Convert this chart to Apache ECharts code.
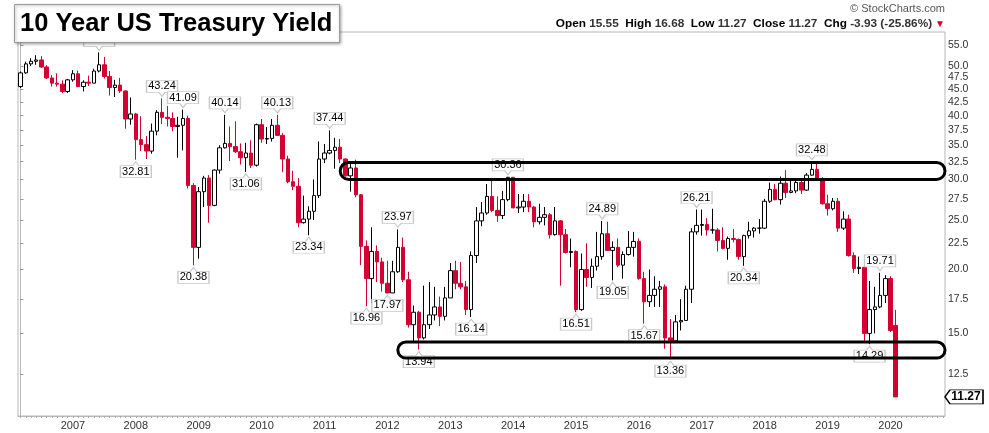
<!DOCTYPE html>
<html><head><meta charset="utf-8">
<script src="https://cdn.jsdelivr.net/npm/echarts@6/dist/echarts.min.js"></script>
<style>html,body{margin:0;padding:0;background:#fff}#c{width:989px;height:433px}</style>
</head><body><div id="c"></div>
<script>
// ---- data (10-year yield x10, monthly) ----
const months = [];
(function(){ for (let y = 2006, m = 3; !(y === 2020 && m === 3); m++) { if (m > 12) { m = 1; y++; } if (y === 2020 && m === 3) break; months.push(y + '-' + String(m).padStart(2, '0')); } })();

const opens = [
45.6,48.5,50.5,51.1,51.4,49.8,47.4,46.3,46.1,44.6,
47.0,48.3,45.6,46.5,46.3,48.9,50.3,47.7,45.4,45.9,44.7,39.4,
40.3,35.9,35.1,34.1,37.3,40.6,39.7,39.5,38.1,38.3,39.5,29.2,
22.1,28.4,30.2,26.7,31.3,34.6,35.3,34.8,34.0,33.1,33.8,32.0,
38.4,36.0,36.1,38.3,36.6,32.9,29.7,29.1,24.7,25.1,26.0,27.9,
32.9,33.8,34.2,34.7,32.9,30.5,31.6,28.0,22.2,19.2,21.7,20.7,
18.8,18.0,19.8,22.1,19.1,15.6,16.5,14.7,15.6,16.3,16.9,16.2,
17.6,19.9,18.8,18.5,16.7,21.3,24.9,25.8,27.8,26.1,25.5,27.4,
30.3,26.4,26.5,27.2,26.5,24.8,25.3,25.6,23.4,24.9,23.4,21.6,
21.7,16.7,20.0,19.3,20.3,21.2,23.5,21.8,22.1,20.4,21.4,22.1,
22.7,19.2,17.3,17.8,18.3,18.5,14.7,14.5,15.8,15.9,18.3,23.7,
24.4,24.5,23.9,23.9,22.8,22.0,23.0,22.9,21.2,23.3,23.8,24.1,
24.1,27.2,28.7,27.4,29.5,28.3,28.5,29.6,28.6,30.6,31.4,30.1,
26.9,26.3,27.2,24.1,25.1,21.3,20.1,20.2,15.0,16.7,16.9,17.8,
19.2,15.55];
const closes = [
48.5,50.5,51.1,51.4,49.8,47.4,46.3,46.1,44.6,47.0,
48.3,45.6,46.5,46.3,48.9,50.3,47.7,45.4,45.9,44.7,39.4,40.3,
35.9,35.1,34.1,37.3,40.6,39.7,39.5,38.1,38.3,39.5,29.2,22.1,
28.4,30.2,26.7,31.3,34.6,35.3,34.8,34.0,33.1,33.8,32.0,38.4,
36.0,36.1,38.3,36.6,32.9,29.7,29.1,24.7,25.1,26.0,27.9,32.9,
33.8,34.2,34.7,32.9,30.5,31.6,28.0,22.2,19.2,21.7,20.7,18.8,
18.0,19.8,22.1,19.1,15.6,16.5,14.7,15.6,16.3,16.9,16.2,17.6,
19.9,18.8,18.5,16.7,21.3,24.9,25.8,27.8,26.1,25.5,27.4,30.3,
26.4,26.5,27.2,26.5,24.8,25.3,25.6,23.4,24.9,23.4,21.6,21.7,
16.7,20.0,19.3,20.3,21.2,23.5,21.8,22.1,20.4,21.4,22.1,22.7,
19.2,17.3,17.8,18.3,18.5,14.7,14.5,15.8,15.9,18.3,23.7,24.4,
24.5,23.9,23.9,22.8,22.0,23.0,22.9,21.2,23.3,23.8,24.1,24.1,
27.2,28.7,27.4,29.5,28.3,28.5,29.6,28.6,30.6,31.4,30.1,26.9,
26.3,27.2,24.1,25.1,21.3,20.1,20.2,15.0,16.7,16.9,17.8,19.2,
15.2,11.27];
const lows = [
45.3,48.3,50.0,50.3,49.6,47.2,45.6,45.6,44.3,44.3,
46.6,45.5,44.6,45.7,46.3,48.6,47.3,43.8,43.5,44.3,37.7,38.4,
32.81,34.1,32.9,33.7,36.6,38.5,38.1,37.3,33.1,34.2,28.8,20.38,
21.0,26.5,24.7,26.6,30.8,34.5,32.6,33.8,32.1,31.06,31.6,31.8,
35.4,35.2,35.6,36.5,31.0,29.5,28.6,24.2,24.6,23.34,25.0,27.6,
32.3,33.6,31.5,32.3,30.4,28.4,27.7,20.4,16.96,17.2,18.9,18.1,
17.97,18.0,19.7,18.9,15.4,14.4,13.94,14.6,15.3,15.9,15.5,15.9,
17.6,18.3,18.3,16.3,16.14,20.6,24.3,25.6,25.9,24.8,25.1,27.2,
26.4,25.8,25.9,25.9,24.2,24.5,24.4,23.0,23.3,18.6,21.5,20.2,
16.51,16.6,18.5,18.4,19.9,20.9,21.8,19.05,20.2,19.2,21.3,21.2,
19.1,15.67,16.9,16.9,16.9,14.0,13.36,14.4,15.2,15.9,17.2,23.4,
23.3,23.3,23.5,21.7,21.9,20.9,22.6,20.9,20.34,23.0,23.1,23.5,
24.0,27.0,27.3,26.8,27.6,28.2,28.2,28.1,28.5,30.5,30.0,26.8,
25.5,26.1,23.7,23.9,21.2,19.7,19.6,14.4,14.29,15.0,16.8,17.2,
15.1,11.27];
const highs = [
48.8,51.0,51.8,52.5,52.3,50.2,48.0,48.4,46.9,47.2,
49.1,49.0,46.9,47.9,49.4,53.2,52.1,48.9,47.0,47.4,44.8,43.4,
40.5,39.9,36.5,38.6,41.0,43.24,41.8,40.6,39.8,41.09,40.0,29.5,
29.0,30.5,30.6,31.4,35.0,40.14,38.1,39.0,35.3,35.4,35.8,38.6,
39.4,38.0,39.4,40.13,37.0,33.4,31.2,30.2,27.9,26.6,30.0,35.6,
35.2,37.44,36.2,36.0,33.0,32.3,32.8,28.1,22.8,24.2,22.3,21.1,
20.8,20.8,23.97,23.1,19.8,17.0,16.6,18.6,18.9,18.5,17.7,18.5,
20.6,20.8,20.7,19.0,21.7,26.5,27.1,29.4,30.0,27.8,28.5,30.36,
30.3,28.1,28.1,28.1,26.6,26.9,26.5,25.8,26.5,25.0,24.0,23.0,
21.8,21.5,22.5,21.0,23.7,24.89,24.8,22.7,23.0,21.7,23.8,23.7,
23.0,19.8,20.0,19.4,19.0,18.7,16.0,16.3,17.5,18.6,24.1,26.21,
26.2,25.2,26.3,24.1,24.2,23.2,24.0,23.0,23.4,24.8,24.2,25.1,
27.5,29.6,29.4,30.4,31.3,30.0,30.0,30.1,30.9,32.48,32.4,30.3,
28.0,27.6,27.6,26.0,25.6,21.6,21.2,20.3,19.0,18.5,19.71,19.5,
19.4,16.68];

const yTicks = [12.5,15,17.5,20,22.5,25,27.5,30,32.5,35,37.5,40,42.5,45,47.5,50,52.5,55];
const highLabels = [['2007-06',53.20],['2008-06',43.24],['2008-10',41.09],['2009-06',40.14],['2010-04',40.13],['2011-02',37.44],['2012-03',23.97],['2013-12',30.36],['2015-06',24.89],['2016-12',26.21],['2018-10',32.48],['2019-11',19.71]];
const lowLabels = [['2008-01',32.81],['2008-12',20.38],['2009-10',31.06],['2010-10',23.34],['2011-09',16.96],['2012-01',17.97],['2012-07',13.94],['2013-05',16.14],['2015-01',16.51],['2015-08',19.05],['2016-02',15.67],['2016-07',13.36],['2017-09',20.34],['2019-09',14.29]];
const zones = [['2011-04',30.0,32.4],['2012-03',13.42,14.43]];

// ---- chart ----
const RED = '#d50032', BLK = '#000';
const ln = Math.log;
const X_MIN = -0.48, X_MAX = 176.4;
const Y_MIN = ln(10.34), Y_MAX = ln(58.3);
const FONT = 'Liberation Sans, Arial, sans-serif';

const candleData = months.map((m, i) => {
  const o = opens[i], c = closes[i], l = lows[i], h = highs[i];
  const prev = i > 0 ? closes[i - 1] : o;
  const col = c >= prev ? BLK : RED;
  const hollow = c > o;
  const fill = hollow ? '#fff' : col;
  return { value: [i, ln(o), ln(c), ln(l), ln(h)], itemStyle: { color: fill, color0: fill, borderColor: col, borderColor0: col } };
});

const PATH_DOWN = 'path://M0,0 L30,0 L30,12 L18,12 L15,16 L12,12 L0,12 Z';
const PATH_UP = 'path://M0,4 L12,4 L15,0 L18,4 L30,4 L30,16 L0,16 Z';
const calloutStyle = { color: '#fff', borderColor: '#c8c8c8', borderWidth: 1 };
const mp = [];
highLabels.forEach(([m, v]) => mp.push({ coord: [months.indexOf(m), ln(v)], value: v.toFixed(2), symbol: PATH_DOWN, symbolSize: [31, 16], symbolOffset: [0, -10], itemStyle: calloutStyle, label: { offset: [0, -2] } }));
lowLabels.forEach(([m, v]) => mp.push({ coord: [months.indexOf(m), ln(v)], value: v.toFixed(2), symbol: PATH_UP, symbolSize: [31, 16], symbolOffset: [0, 10], itemStyle: calloutStyle, label: { offset: [0, 2] } }));
const last = months.length - 1;
const lastClose = closes[last];
mp.push({ coord: [X_MAX, ln(lastClose)], value: lastClose.toFixed(2), symbol: 'path://M0,7 L5,0 L38,0 L38,14 L5,14 Z', symbolSize: [38, 14], symbolOffset: [19, 0], itemStyle: { color: '#fff', borderColor: '#000', borderWidth: 1 }, label: { offset: [2, 0], fontWeight: 'bold', fontSize: 12 } });

const chg = closes[last] - closes[last - 1];
const pct = chg / closes[last - 1] * 100;
const statsText = '{b|Open} {v|' + opens[last].toFixed(2) + '}  {b|High} {v|' + highs[last].toFixed(2) + '}  {b|Low} {v|' + lows[last].toFixed(2) + '}  {b|Close} {v|' + closes[last].toFixed(2) + '}  {b|Chg} {v|' + chg.toFixed(2) + ' (' + pct.toFixed(2) + '%)}{r|▼}';

const yearTicks = months.map((m, i) => m.endsWith('-01') ? i : null).filter(v => v !== null);
const monthTicks = []; for (let i = 0; i <= Math.floor(X_MAX); i++) monthTicks.push(i);

const chart = echarts.init(document.getElementById('c'), null, { renderer: 'canvas' });
chart.setOption({
  animation: false,
  backgroundColor: '#fff',
  title: [
    { text: '10 Year US Treasury Yield', left: 14, top: 5, padding: [6, 7, 6, 6], backgroundColor: '#fff', borderColor: '#999', borderWidth: 1, shadowBlur: 3, shadowColor: 'rgba(0,0,0,0.35)', shadowOffsetX: 1, shadowOffsetY: 1, z: 20,
      textStyle: { fontFamily: FONT, fontSize: 25.5, fontWeight: 'bold', color: '#000', lineHeight: 25 } },
    { text: '© StockCharts.com', right: 44, top: 3, padding: 0, textStyle: { fontFamily: FONT, fontSize: 11, fontWeight: 'normal', color: '#555' } },
    { text: statsText, right: 44, top: 18, padding: 0, textStyle: { fontFamily: FONT, fontSize: 11.8, rich: {
        b: { fontFamily: FONT, fontSize: 11.8, fontWeight: 'bold', color: '#000' },
        v: { fontFamily: FONT, fontSize: 11.8, color: '#333' },
        r: { fontFamily: FONT, fontSize: 10, color: RED, padding: [0, 0, 0, 3] } } } }
  ],
  grid: { left: 18, right: 44, top: 32, bottom: 17, show: true, borderColor: '#b8b8b8', borderWidth: 1, containLabel: false },
  xAxis: {
    type: 'value', min: X_MIN, max: X_MAX,
    axisLine: { show: true, lineStyle: { color: '#b8b8b8' } },
    axisTick: { show: true, customValues: monthTicks, length: 2, lineStyle: { color: '#aaa' } },
    axisLabel: { customValues: yearTicks, formatter: v => months[Math.round(v)].slice(0, 4), fontFamily: FONT, fontSize: 11, color: '#333', margin: 4 },
    splitLine: { show: false }
  },
  yAxis: {
    type: 'value', position: 'right', min: Y_MIN, max: Y_MAX,
    axisLine: { show: true, lineStyle: { color: '#b8b8b8' } },
    axisTick: { show: true, customValues: yTicks.map(ln), length: 3, lineStyle: { color: '#999' } },
    axisLabel: { customValues: yTicks.map(ln), formatter: v => Math.exp(v).toFixed(1), fontFamily: FONT, fontSize: 10.5, lineHeight: 9, hideOverlap: false, showMaxLabel: true, showMinLabel: true, color: '#333', margin: 3 },
    splitLine: { show: false }
  },
  series: [{
    type: 'candlestick',
    encode: { x: 0, y: [1, 2, 3, 4] },
    barWidth: 4,
    data: candleData,
    markPoint: {
      silent: true,
      label: { show: true, position: 'inside', formatter: '{c}', fontFamily: FONT, fontSize: 11, color: '#000' },
      data: mp
    }
  }]
});

const g = zones.map(([m, lo, hi]) => {
  const p1 = chart.convertToPixel({ gridIndex: 0 }, [months.indexOf(m), ln(hi)]);
  const p2 = chart.convertToPixel({ gridIndex: 0 }, [X_MAX, ln(lo)]);
  const h = p2[1] - p1[1];
  return { type: 'rect', z: 50, silent: true, shape: { x: p1[0], y: p1[1], width: p2[0] - p1[0], height: h, r: h / 2 }, style: { fill: 'none', stroke: '#000', lineWidth: 3 } };
});
chart.setOption({ graphic: g });
</script>
</body></html>
